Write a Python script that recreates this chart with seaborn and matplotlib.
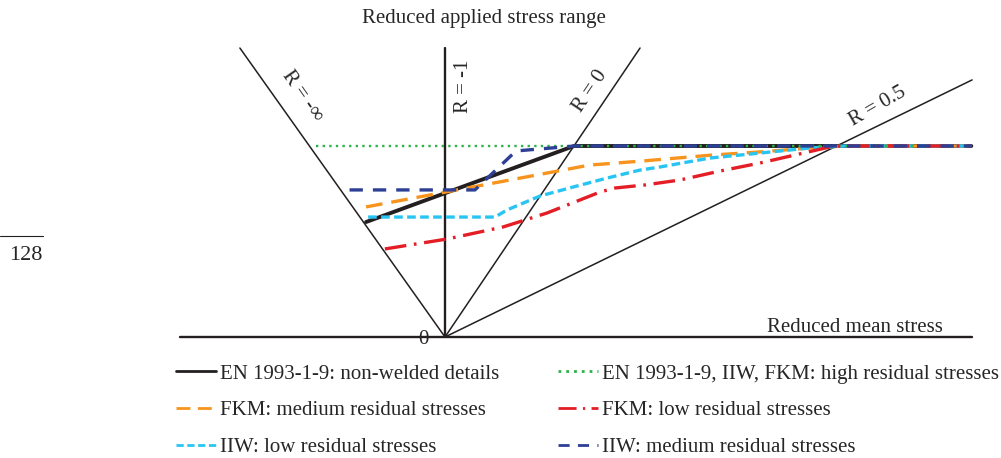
import numpy as np
import pandas as pd
import matplotlib
matplotlib.use("Agg")
import matplotlib.pyplot as plt
import seaborn as sns

# Normalised values: x = reduced mean stress, y = reduced stress range
en_x = [-0.306, 0.50, 2.04]
en_y = [0.602, 1.00, 1.00]

high_x = [-0.50, 2.04]
high_y = [1.00, 1.00]

fkm_med_x = [-0.306, 0.56, 0.77, 1.03, 1.22, 1.42, 1.55, 2.04]
fkm_med_y = [0.681, 0.900, 0.922, 0.952, 0.969, 0.990, 1.00, 1.00]

fkm_low_x = [-0.233, 0.008, 0.225, 0.395, 0.601, 0.659, 0.775, 0.911, 1.066, 1.221, 1.357, 1.492, 1.53, 2.04]
fkm_low_y = [0.461, 0.513, 0.576, 0.649, 0.759, 0.780, 0.796, 0.822, 0.869, 0.911, 0.953, 0.995, 1.00, 1.00]

iiw_low_x = [-0.298, 0.194, 0.240, 0.368, 0.496, 0.628, 0.756, 0.833, 1.027, 1.221, 1.415, 1.55, 2.04]
iiw_low_y = [0.628, 0.628, 0.665, 0.738, 0.785, 0.832, 0.874, 0.890, 0.937, 0.963, 0.990, 1.00, 1.00]

iiw_med_x = [-0.37, 0.116, 0.275, 0.504, 2.04]
iiw_med_y = [0.770, 0.770, 0.974, 1.00, 1.00]

# R-ratio rays from the origin (end points)
r_lines = {"minf": (-0.795, 1.513), "m1": (0.0, 1.513), "zero": (0.756, 1.513), "half": (2.043, 1.346)}
axis_x = [-1.027, 2.043]

sns.set_style("white")
plt.rcParams["font.family"] = ["Liberation Serif", "DejaVu Serif"]

fig = plt.figure(figsize=(10.01, 4.58), dpi=100)
ax = fig.add_axes([0, 0, 1, 1])
# pixel mapping: x=(px-445)/258, y=(337-py)/191
ax.set_xlim(-445 / 258, (1001 - 445) / 258)
ax.set_ylim((337 - 458) / 191, 337 / 191)
ax.axis("off")

# axes and rays
ax.plot(axis_x, [0, 0], color="#231f20", lw=1.7)
for key, (ex, ey) in r_lines.items():
    ax.plot([0, ex], [0, ey], color="#231f20", lw=1.7 if key == "m1" else 1.1)

series = [
    ("EN 1993-1-9: non-welded details", en_x, en_y, "#231f20", "-", 2.8),
    ("FKM: medium residual stresses", fkm_med_x, fkm_med_y, "#f7941d", (0, (5, 2.7)), 2.4),
    ("IIW: low residual stresses", iiw_low_x, iiw_low_y, "#29c5f2", (0, (2.6, 1.3)), 2.4),
    ("EN 1993-1-9, IIW, FKM: high residual stresses", high_x, high_y, "#2db34a", (0, (1, 1.8)), 1.7),
    ("FKM: low residual stresses", fkm_low_x, fkm_low_y, "#e31e26", (0, (6.5, 2.3, 0.8, 2.3)), 2.4),
    ("IIW: medium residual stresses", iiw_med_x, iiw_med_y, "#2e3f96", (0, (4, 3)), 2.4),
]
for label, xs, ys, col, ls, lw in series:
    df = pd.DataFrame({"x": xs, "y": ys})
    sns.lineplot(data=df, x="x", y="y", ax=ax, sort=False, color=col,
                 linestyle=ls, lw=lw, label=label, legend=False)

handles = ax.get_lines()[-6:]
labels = [s[0] for s in series]
leg = fig.legend(handles, labels, ncol=2, loc="upper left",
                 bbox_to_anchor=(176 / 1001, 1 - 364 / 458), frameon=False,
                 fontsize=15, handlelength=1.92, handletextpad=0.2,
                 columnspacing=2.8, labelspacing=0.82, borderpad=0, borderaxespad=0)
for h in leg.legend_handles:
    h.set_linewidth(2.0)

def fpos(px, py):
    return px / 1001, 1 - py / 458

fs = 15
fig.text(*fpos(484, 18), "Reduced applied stress range", ha="center", va="center", fontsize=fs)
fig.text(*fpos(855, 327), "Reduced mean stress", ha="center", va="center", fontsize=fs)
fig.text(*fpos(423, 339), "0", ha="center", va="center", fontsize=fs)
fig.text(*fpos(302, 96), "R = -\u221e", ha="center", va="center", fontsize=fs,
         rotation=-55, rotation_mode="anchor")
fig.text(*fpos(463, 86), "R = -1", ha="center", va="center", fontsize=fs,
         rotation=90, rotation_mode="anchor")
fig.text(*fpos(590, 91), "R = 0", ha="center", va="center", fontsize=fs,
         rotation=56, rotation_mode="anchor")
fig.text(*fpos(878, 107), "R = 0.5", ha="center", va="center", fontsize=fs,
         rotation=30, rotation_mode="anchor")
fig.text(*fpos(26, 255), "128", ha="center", va="center", fontsize=fs + 1)
fig.add_artist(plt.Line2D([0, 43 / 1001], [1 - 236 / 458] * 2, color="#231f20", lw=0.8))

fig.savefig("out.png", dpi=100)
